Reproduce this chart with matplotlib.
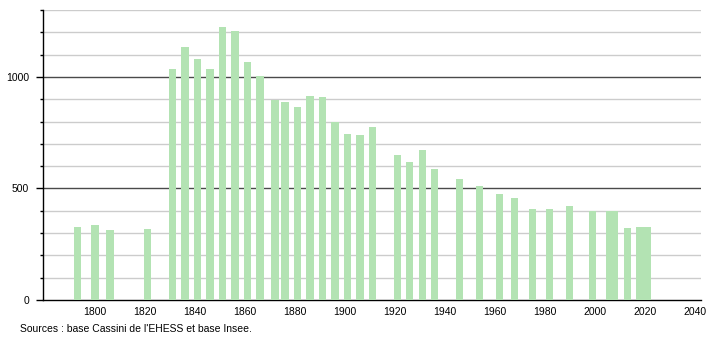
import numpy as np
import matplotlib
matplotlib.use('Agg')
import matplotlib.pyplot as plt
from matplotlib.ticker import MultipleLocator

plt.rcParams['font.family'] = ['Liberation Sans', 'DejaVu Sans']

# census years and population
years = [1793, 1800, 1806, 1821, 1831, 1836, 1841, 1846, 1851, 1856,
         1861, 1866, 1872, 1876, 1881, 1886, 1891, 1896, 1901, 1906,
         1911, 1921, 1926, 1931, 1936, 1946, 1954, 1962, 1968, 1975,
         1982, 1990, 1999, 2006, 2008, 2013, 2018, 2020, 2021]
population = [326, 335, 314, 319, 1037, 1135, 1079, 1037, 1224, 1208,
              1069, 1006, 898, 889, 867, 913, 912, 796, 745, 741,
              777, 651, 620, 674, 588, 543, 512, 476, 458, 409,
              409, 422, 398, 398, 398, 323, 326, 326, 326]

source_text = "Sources : base Cassini de l'EHESS et base Insee."

#%% Plot
fig = plt.figure(figsize=(7.1, 3.4), dpi=100)
ax = fig.add_axes([43/710, 40/340, 658/710, 290/340])

ax.bar(years, population, width=2.9, color='#b3e3b3', zorder=3)

# grid: light every 100, dark every 500
for v in range(100, 1301, 100):
    if v % 500 == 0:
        ax.axhline(v, color='#4a4a4a', lw=1.0, zorder=1)
    else:
        ax.axhline(v, color='#cccccc', lw=1.0, zorder=1)

ax.set_xlim(1779.2, 2042.5)
ax.set_ylim(0, 1300)
ax.set_xticks(np.arange(1800, 2041, 20))
ax.set_yticks([0, 500, 1000])
ax.yaxis.set_minor_locator(MultipleLocator(100))

for s in ['top', 'right']:
    ax.spines[s].set_visible(False)
ax.spines['left'].set_linewidth(1.0)
ax.spines['bottom'].set_linewidth(1.0)

ax.tick_params(axis='x', length=0, pad=5, labelsize=7.5)
ax.tick_params(axis='y', which='major', length=5, width=1, pad=5, labelsize=7.5)
ax.tick_params(axis='y', which='minor', length=2, width=1)

fig.text(20/710, 1 - 329/340, source_text, fontsize=7.5, va='center', ha='left')

fig.savefig('out.png', dpi=100)
